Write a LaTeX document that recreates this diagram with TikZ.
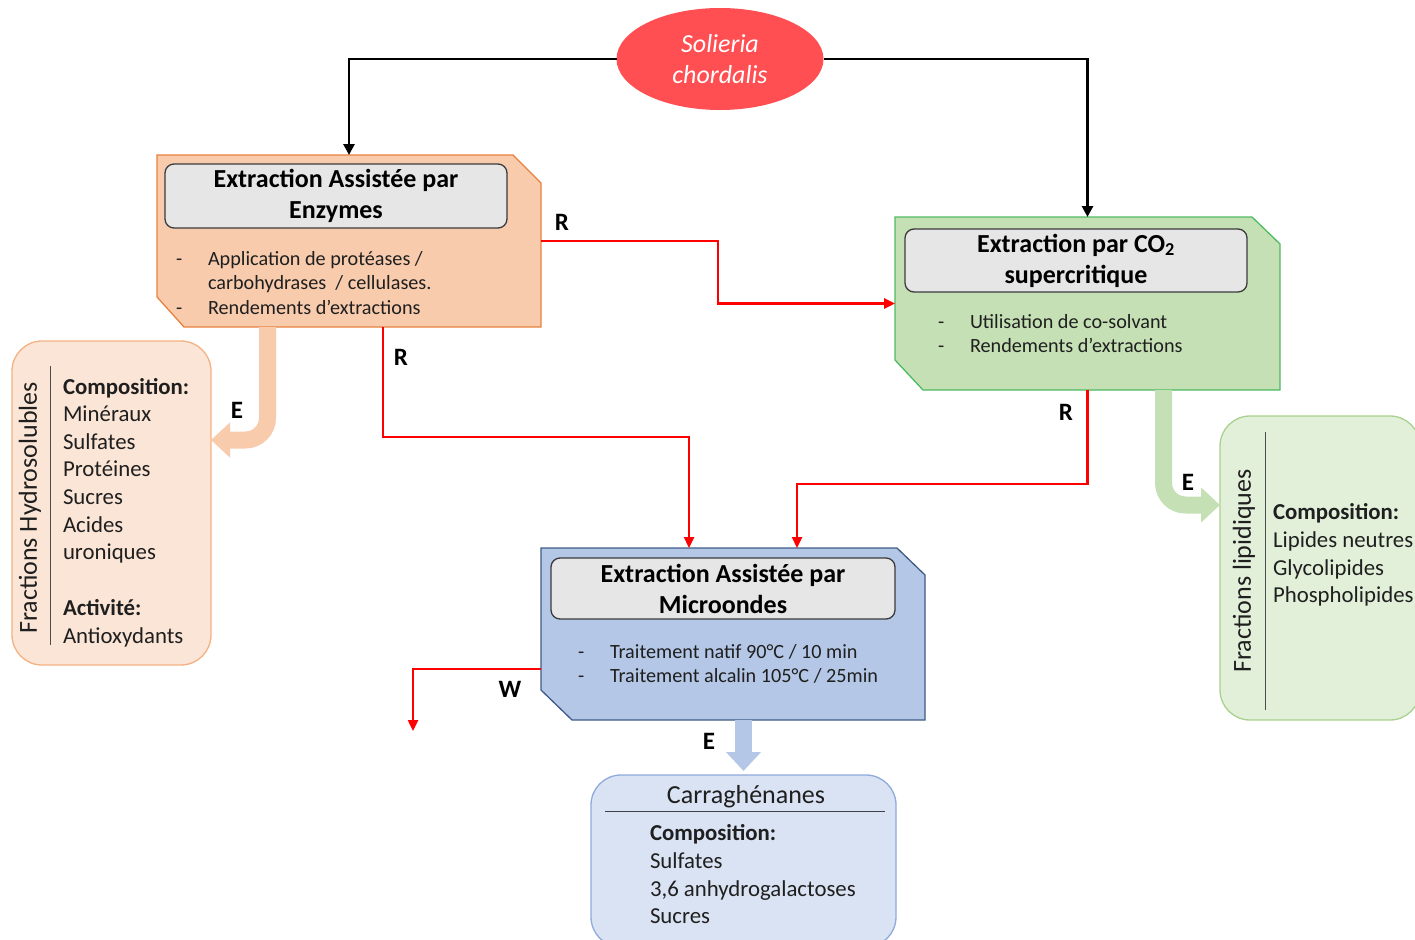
\documentclass[tikz,border=0pt]{standalone}
\usepackage{fontspec}
\setmainfont{Carlito}
\usetikzlibrary{arrows.meta,calc,shapes.geometric}
\definecolor{solred}{HTML}{FF4F52}
\definecolor{enzfill}{HTML}{F8CBAD}
\definecolor{enzline}{HTML}{E8803F}
\definecolor{cofill}{HTML}{C5E0B4}
\definecolor{coline}{HTML}{4DBB61}
\definecolor{mwfill}{HTML}{B4C7E7}
\definecolor{mwline}{HTML}{3F5A86}
\definecolor{tfill}{HTML}{E7E6E6}
\definecolor{tline}{HTML}{3A3A3A}
\definecolor{hyfill}{HTML}{FBE5D6}
\definecolor{hyline}{HTML}{F4B183}
\definecolor{lifill}{HTML}{E2F0D9}
\definecolor{liline}{HTML}{A9D18E}
\definecolor{cafill}{HTML}{DAE3F3}
\definecolor{caline}{HTML}{8FAADC}
\definecolor{txt}{HTML}{1F1F1F}
\begin{document}
\begin{tikzpicture}[x=1pt,y=-1pt,
  every node/.style={inner sep=0pt, outer sep=0pt},
  hold/.style={draw=none},
  titlebox/.style={draw=tline, fill=tfill, rounded corners=9pt, line width=1.3pt,
     font=\fontsize{26}{31}\selectfont\bfseries, align=center, text=black},
  bul/.style={font=\fontsize{20.2}{24}\selectfont, text=txt, anchor=base west},
  pan/.style={font=\fontsize{22.8}{27.5}\selectfont, text=txt, anchor=base west},
  panb/.style={pan, font=\fontsize{22.8}{27.5}\selectfont\bfseries},
  lab/.style={font=\fontsize{25}{28}\selectfont\bfseries, text=black},
  panel/.style={rounded corners=30pt, line width=1.3pt},
  blackline/.style={line width=2.8pt, -{Triangle[width=11pt,length=11pt]}},
  redline/.style={draw=red, line width=2.4pt, -{Triangle[width=10pt,length=11pt]}},
  thick arrow/.style={line width=17pt, rounded corners=22pt, -{Triangle[width=34pt,length=19pt]}},
]
\useasboundingbox (0,0) rectangle (1415,939);

% source ellipse
\node[ellipse, fill=solred, minimum width=207, minimum height=102,
      font=\fontsize{26}{31}\selectfont\itshape, text=white, align=center] (sol) at (720,59) {Solieria\\chordalis};

% holders for process boxes
\node[hold, minimum width=384, minimum height=172] (enz) at (349,241) {};
\node[hold, minimum width=385, minimum height=173] (co2) at (1087.5,303.5) {};
\node[hold, minimum width=384, minimum height=172] (mw) at (733,634) {};

% chamfered process boxes
\draw[fill=enzfill, draw=enzline, line width=1.3pt]
  (enz.north west) -- ([xshift=-28pt]enz.north east) -- ([yshift=-28pt]enz.north east)
  -- (enz.south east) -- ([xshift=27pt]enz.south west) -- ([yshift=30pt]enz.south west) -- cycle;
\draw[fill=cofill, draw=coline, line width=1.3pt]
  (co2.north west) -- ([xshift=-28pt]co2.north east) -- ([yshift=-27pt]co2.north east)
  -- (co2.south east) -- ([xshift=28pt]co2.south west) -- ([yshift=30pt]co2.south west) -- cycle;
\draw[fill=mwfill, draw=mwline, line width=1.3pt]
  (mw.north west) -- ([xshift=-28pt]mw.north east) -- ([yshift=-27pt]mw.north east)
  -- (mw.south east) -- ([xshift=31pt]mw.south west) -- ([yshift=30pt]mw.south west) -- cycle;

% title boxes
\node[titlebox, minimum width=342, minimum height=64] (enzt) at (336,196) {Extraction Assistée par\\Enzymes};
\node[titlebox, minimum width=342, minimum height=63] (co2t) at (1076,260.5) {Extraction par CO\textsubscript{2}\\supercritique};
\node[titlebox, minimum width=344, minimum height=61] (mwt) at (723,588.5) {Extraction Assistée par\\Microondes};

% bullets enzyme
\node[bul] (ed1) at (176,265) {-};
\node[bul] (et1) at (208,265) {Application de protéases /};
\node[bul] (et2) at (208,289.5) {carbohydrases \ / cellulases.};
\node[bul] (ed3) at (176,314) {-};
\node[bul] (et3) at (208,314) {Rendements d’extractions};
% bullets co2
\node[bul] (cd1) at (938,328) {-};
\node[bul] (ct1) at (970,328) {Utilisation de co-solvant};
\node[bul] (cd2) at (938,352) {-};
\node[bul] (ct2) at (970,352) {Rendements d’extractions};
% bullets microwave
\node[bul] (md1) at (578,658) {-};
\node[bul] (mt1) at (610,658) {Traitement natif 90°C / 10 min};
\node[bul] (md2) at (578,682) {-};
\node[bul] (mt2) at (610,682) {Traitement alcalin 105°C / 25min};

% result panels
\node[panel, draw=hyline, fill=hyfill, minimum width=199, minimum height=324] (hy) at (111.5,503) {};
\node[panel, draw=liline, fill=lifill, minimum width=200, minimum height=304] (li) at (1320,568) {};
\node[panel, draw=caline, fill=cafill, minimum width=305, minimum height=172] (ca) at (743.5,861) {};

% hydrosoluble panel content
\draw[line width=1pt, draw=black!70] (50,366) coordinate (hya) -- (50,645) coordinate (hyb);
\node[rotate=90, font=\fontsize{26}{30}\selectfont, text=txt] (hyt) at (30,508) {Fractions Hydrosolubles};
\node[panb] (h1) at (63,394) {Composition:};
\node[pan] (h2) at (63,421.5) {Minéraux};
\node[pan] (h3) at (63,449) {Sulfates};
\node[pan] (h4) at (63,476.5) {Protéines};
\node[pan] (h5) at (63,504.5) {Sucres};
\node[pan] (h6) at (63,532) {Acides};
\node[pan] (h7) at (63,559.5) {uroniques};
\node[panb] (h8) at (63,615.5) {Activité:};
\node[pan] (h9) at (63,643) {Antioxydants};

% lipid panel content
\draw[line width=1pt, draw=black!70] (1265,432) coordinate (lia) -- (1265,710) coordinate (lib);
\node[rotate=90, font=\fontsize{26}{30}\selectfont, text=txt] (lit) at (1244,571) {Fractions lipidiques};
\node[panb] (l1) at (1273,519.5) {Composition:};
\node[pan] (l2) at (1273,547.5) {Lipides neutres};
\node[pan] (l3) at (1273,575) {Glycolipides};
\node[pan] (l4) at (1273,602.5) {Phospholipides};

% carraghenanes panel content
\node[font=\fontsize{26}{30}\selectfont, text=txt] (cat) at (746,797) {Carraghénanes};
\draw[line width=0.9pt, draw=black!75] (605,811) coordinate (caa) -- (885,811) coordinate (cab);
\node[panb] (c1) at (650,840.5) {Composition:};
\node[pan] (c2) at (650,868.5) {Sulfates};
\node[pan] (c3) at (650,896) {3,6 anhydrogalactoses};
\node[pan] (c4) at (650,923.5) {Sucres};

% black connectors
\draw[blackline] (sol.west) -| (enz.north);
\draw[blackline] (sol.east) -| (co2.north);

% red connectors
\draw[redline] (enz.east) -| ($(enz.east)!0.5!(co2.west)$) |- (co2.west);
\draw[redline] ([xshift=34pt]enz.south) -- ++(0,110) -| ([xshift=-44pt]mw.north);
\draw[redline] (co2.south) -- ++(0,94) -| ([xshift=64pt]mw.north);
\coordinate (wend) at (413,731);
\draw[redline] ([yshift=-35pt]mw.west) -| (wend);

% thick extraction arrows
\draw[thick arrow, draw=enzfill] ([xshift=-81.5pt]enz.south) |- ([yshift=63pt]hy.east);
\draw[thick arrow, draw=cofill] ([xshift=76pt]co2.south) |- ([yshift=63pt]li.west);
\draw[thick arrow, draw=mwfill, rounded corners=0pt] (mw.south -| ca.north) -- ([yshift=4pt]ca.north);

% labels
\node[lab] (lr1) at (562,222) {R};
\node[lab] (lr2) at (401,357) {R};
\node[lab] (lr3) at (1066,412) {R};
\node[lab] (lw) at (510,689) {W};
\node[lab] (le1) at (237,410) {E};
\node[lab] (le2) at (1188,482) {E};
\node[lab] (le3) at (709,741) {E};
\end{tikzpicture}
\end{document}
